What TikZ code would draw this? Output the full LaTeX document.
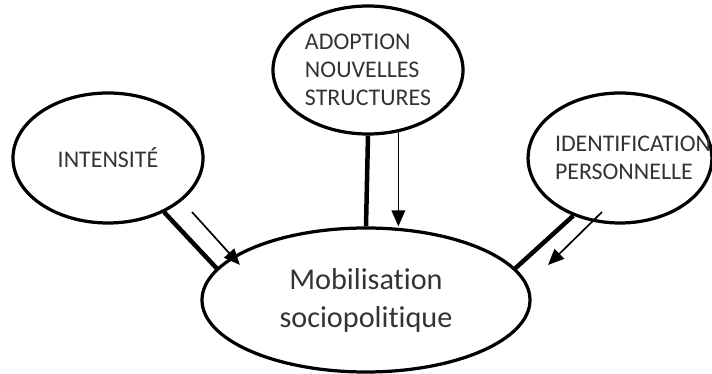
\documentclass[tikz,border=0pt]{standalone}
\usepackage{fontspec}
\setmainfont{Carlito}[Ligatures=NoCommon]
\usepackage{tikz}
\usetikzlibrary{arrows.meta, shapes, positioning}
\newcommand{\labelcolor}{black!80}

\begin{document}
\begin{tikzpicture}[
      % GLOBAL CFG
      >=Triangle,
      % Styles
      factor/.style={% For the influencing factors
        ellipse,
        draw,
        line width=2.3pt,
        text=\labelcolor,
        align=left,
        font=\fontsize{17}{20}\selectfont,
        inner sep=0pt,
        minimum width=4.75cm,
        minimum height=3.25cm
      },
      outcome/.style={% For the central concept
        ellipse,
        draw,
        line width=2.3pt,
        text=\labelcolor,
        align=center,
        font=\fontsize{21.5}{27}\selectfont,
        inner sep=0pt,
        minimum width=8.2cm,
        minimum height=3.6cm
      },
      arrowlink/.style={% Thick links between the ellipses
        line width=3.2pt
      },
      arrowinfluence/.style={% Thin arrows for the influence
        line width=1.2pt,
        -{Triangle[length=4mm,width=3.4mm]}
      }
      ]

      \useasboundingbox (0,0) rectangle (17.8,9.35);

      % Draw the ellipses:
      \node [outcome] (mob) at (9.15,1.85) {Mobilisation\\sociopolitique};
      \node [factor] (intens) at (2.7,5.4) {INTENSITÉ};
      \node [factor, minimum height=3.2cm] (adopt) at (9.2,7.6) {ADOPTION\\NOUVELLES\\STRUCTURES};
      \node [factor, minimum width=4.55cm, text width=3.25cm] (ident) at (15.5,5.4) {IDENTIFICATION\\PERSONNELLE};

      % Thick links
      \draw [arrowlink] (intens.-44) -- (mob.168);
      \draw [arrowlink] (adopt.south) -- (mob.north);
      \draw [arrowlink] (ident.231) -- (mob.12);

      % Influence arrows
      \coordinate (intensstart) at (4.8,4.05);
      \coordinate (identstart) at (15.05,4.05);
      \coordinate (identend) at (13.7,2.725);
      \draw [arrowinfluence, shorten >=-0.28cm] (intensstart) -- (mob.162);
      \draw [arrowinfluence] (adopt.-64) -- (adopt.-64 |- mob.north);
      \draw [arrowinfluence] (identstart) -- (identend);

    \end{tikzpicture}
\end{document}
